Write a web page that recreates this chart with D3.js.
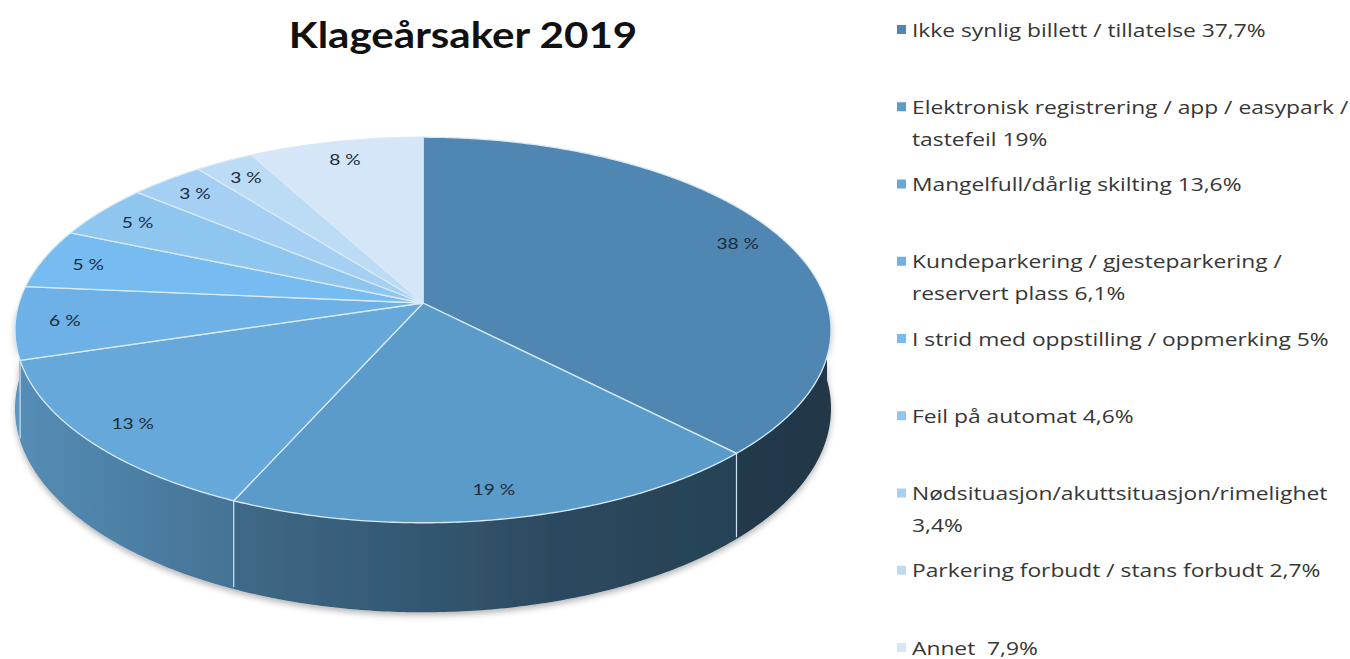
<!DOCTYPE html>
<html>
<head>
<meta charset="utf-8">
<script src="https://cdn.jsdelivr.net/npm/d3@7"></script>
<style>
  body { margin: 0; background: #fff; }
  svg { display: block; }
</style>
</head>
<body>
<div id="chart"></div>
<script>
/* 3D pie - Klageårsaker 2019 */

const categories = [
  "Ikke synlig billett / tillatelse 37,7%",
  "Elektronisk registrering / app / easypark /\ntastefeil 19%",
  "Mangelfull/dårlig skilting 13,6%",
  "Kundeparkering / gjesteparkering /\nreservert plass 6,1%",
  "I strid med oppstilling / oppmerking 5%",
  "Feil på automat 4,6%",
  "Nødsituasjon/akuttsituasjon/rimelighet\n3,4%",
  "Parkering forbudt / stans forbudt 2,7%",
  "Annet  7,9%"
];
const values = [37.7, 19, 13.6, 6.1, 5, 4.6, 3.4, 2.7, 7.9];
const pctLabels = ["38 %", "19 %", "13 %", "6 %", "5 %", "5 %", "3 %", "3 %", "8 %"];
const colors = ["#4f87b2", "#5b9bc9", "#66a8da", "#6db1e6", "#76bcf1", "#8fc6f0", "#a6d0f3", "#bcdbf5", "#d4e6f7"];

const width = 1350, height = 659;
const stretch = 1.2; // text in the picture is drawn wide

const svg = d3.select("#chart")
  .append("svg")
  .attr("width", width)
  .attr("height", height);

// pseudo-perspective projection of the disc
const cx = 423, cy = 303, R = 404, A = 189, P = 0.14, depth = 77;
function proj(r, ang, drop = 0) {
  const X = r * Math.sin(ang), Z = -r * Math.cos(ang);
  const w = 1 - P * Z;
  return [cx + R * X / w, cy + (A * Z + drop) / w];
}

const arcs = d3.pie().sort(null).value(d => d)(values);

const defs = svg.append("defs");

defs.append("filter")
  .attr("id", "shadow")
  .attr("x", "-10%").attr("y", "-10%").attr("width", "120%").attr("height", "130%")
  .append("feDropShadow")
  .attr("dx", 0).attr("dy", 3)
  .attr("stdDeviation", 3)
  .attr("flood-color", "#000")
  .attr("flood-opacity", 0.3);

// side wall gradients (darker to the right)
arcs.forEach((a, i) => {
  const base = d3.color(colors[i]);
  const g = defs.append("linearGradient")
    .attr("id", "side" + i)
    .attr("gradientUnits", "userSpaceOnUse")
    .attr("x1", cx - R).attr("x2", cx + R)
    .attr("y1", 0).attr("y2", 0);
  [[0, 0.5], [0.25, 1.05], [0.7, 2.2], [1, 2.5]].forEach(([o, k]) => {
    g.append("stop").attr("offset", o).attr("stop-color", base.darker(k).formatHex());
  });
});

const line = d3.line();
const steps = a => Math.max(2, Math.ceil((a.endAngle - a.startAngle) / 0.01));

// walls: only the front half is visible
const walls = svg.append("g").attr("filter", "url(#shadow)");
arcs.forEach((a, i) => {
  const s = Math.max(a.startAngle, Math.PI / 2), e = Math.min(a.endAngle, 3 * Math.PI / 2);
  if (e <= s) return;
  const n = Math.max(2, Math.ceil((e - s) / 0.01));
  const top = d3.range(n + 1).map(k => proj(1, s + (e - s) * k / n));
  const bot = d3.range(n + 1).map(k => proj(1, e - (e - s) * k / n, depth));
  walls.append("path")
    .attr("d", line(top.concat(bot)) + "Z")
    .attr("fill", `url(#side${i})`);
});

// light edges between walls
arcs.forEach(a => {
  const ang = a.startAngle;
  if (ang > Math.PI / 2 && ang < 3 * Math.PI / 2) {
    const p0 = proj(1, ang), p1 = proj(1, ang, depth);
    svg.append("line")
      .attr("x1", p0[0]).attr("y1", p0[1])
      .attr("x2", p1[0]).attr("y2", p1[1] - 2)
      .attr("stroke", "#cfe2f3")
      .attr("stroke-width", 1.2);
  }
});

// top faces
svg.append("g")
  .selectAll("path")
  .data(arcs)
  .join("path")
  .attr("d", a => {
    const n = steps(a);
    const pts = d3.range(n + 1).map(k => proj(1, a.startAngle + (a.endAngle - a.startAngle) * k / n));
    return line([[cx, cy]].concat(pts)) + "Z";
  })
  .attr("fill", (a, i) => colors[i])
  .attr("stroke", "#d8e9f7")
  .attr("stroke-width", 1.3)
  .attr("stroke-linejoin", "round");

// data labels
svg.append("g")
  .selectAll("text")
  .data(arcs)
  .join("text")
  .attr("transform", a => {
    const p = proj(0.88, (a.startAngle + a.endAngle) / 2);
    return `translate(${p[0]},${p[1]}) scale(${stretch},1)`;
  })
  .attr("text-anchor", "middle")
  .attr("dominant-baseline", "central")
  .attr("font-family", "Lato, 'Open Sans', sans-serif")
  .attr("font-size", 16)
  .attr("fill", "#1c2b3c")
  .text((a, i) => pctLabels[i]);

// title
svg.append("text")
  .attr("transform", `translate(463,48) scale(1.17,1)`)
  .attr("text-anchor", "middle")
  .attr("font-family", "Lato, sans-serif")
  .attr("font-weight", "bold")
  .attr("font-size", 36)
  .attr("fill", "#111")
  .text("Klageårsaker 2019");

// legend
const ly = d3.scalePoint()
  .domain(d3.range(categories.length))
  .range([30, 648]);

const legend = svg.append("g")
  .selectAll("g")
  .data(categories)
  .join("g")
  .attr("transform", (d, i) => `translate(897,${ly(i)})`);

legend.append("rect")
  .attr("x", 0).attr("y", -5)
  .attr("width", 9).attr("height", 9)
  .attr("fill", (d, i) => colors[i]);

legend.append("text")
  .attr("transform", `translate(15,0) scale(${stretch},1)`)
  .attr("font-family", "'Open Sans', sans-serif")
  .attr("font-size", 19)
  .attr("fill", "#363636")
  .style("white-space", "pre")
  .selectAll("tspan")
  .data(d => d.split("\n"))
  .join("tspan")
  .attr("x", 0)
  .attr("y", (d, j) => j * 32)
  .attr("dy", "0.35em")
  .text(d => d);
</script>
</body>
</html>
